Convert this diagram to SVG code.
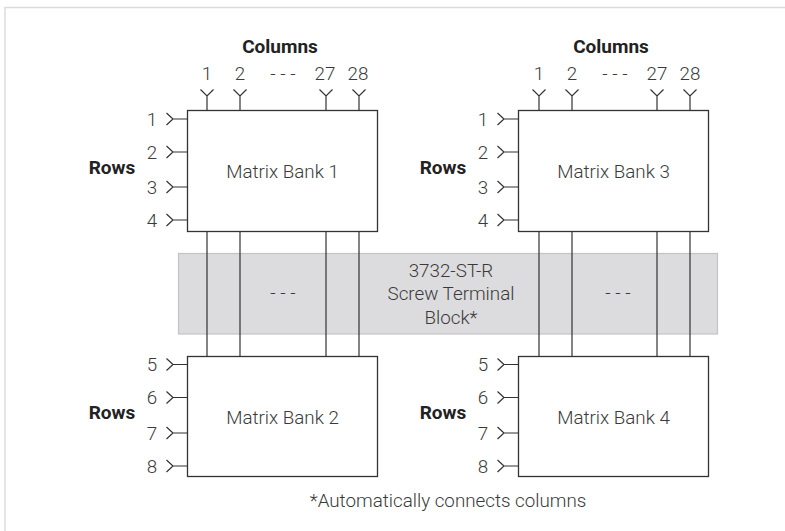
<svg xmlns="http://www.w3.org/2000/svg" width="785" height="531" viewBox="0 0 785 531">
<defs>
<style>
.frame{fill:none;stroke:#dcdcdc;stroke-width:1.5}
.box{fill:#fff;stroke:#333;stroke-width:1.3}
.wire{fill:none;stroke:#333;stroke-width:1.2}
.term{fill:#dcdcde;stroke:#c4c4c6;stroke-width:1.2}
.t{font-family:Roboto,"Liberation Sans",sans-serif;font-weight:300;font-size:18.8px;fill:#3a3a3a;text-anchor:middle}
.b{font-family:Roboto,"Liberation Sans",sans-serif;font-weight:700;font-size:19px;fill:#222;text-anchor:middle}
</style>
<g id="colpin"><path class="wire" d="M-6.5,89.5 L0,96 L6.5,89.5 M0,96 V110.5"/></g>
<g id="rowpin"><path class="wire" d="M-20.5,-6 L-14,0 L-20.5,6 M-14,0 H0"/></g>
</defs>
<path class="frame" d="M5,531 V7.5 H785"/>

<g id="terminal-block">
<rect class="term" x="178.5" y="253.5" width="539" height="80.5"/>
<text class="t" x="451" y="276.5">3732-ST-R</text>
<text class="t" x="451" y="300">Screw Terminal</text>
<text class="t" x="451" y="323.5">Block*</text>
<text class="t" x="283" y="299">- - -</text>
<text class="t" x="618" y="299">- - -</text>
</g>

<g id="connectors">
<path class="wire" d="M207,231.5 V356.5 M240,231.5 V356.5 M326,231.5 V356.5 M359,231.5 V356.5"/>
<path class="wire" d="M539,231.5 V356.5 M572,231.5 V356.5 M657,231.5 V356.5 M690,231.5 V356.5"/>
<use href="#colpin" x="207"/><use href="#colpin" x="240"/><use href="#colpin" x="326"/><use href="#colpin" x="359"/>
<use href="#colpin" x="539"/><use href="#colpin" x="572"/><use href="#colpin" x="657"/><use href="#colpin" x="690"/>
<use href="#rowpin" x="187" y="119"/><use href="#rowpin" x="187" y="152"/><use href="#rowpin" x="187" y="187"/><use href="#rowpin" x="187" y="220"/>
<use href="#rowpin" x="187" y="364.5"/><use href="#rowpin" x="187" y="397.5"/><use href="#rowpin" x="187" y="433"/><use href="#rowpin" x="187" y="466"/>
<use href="#rowpin" x="518" y="119"/><use href="#rowpin" x="518" y="152"/><use href="#rowpin" x="518" y="187"/><use href="#rowpin" x="518" y="220"/>
<use href="#rowpin" x="518" y="364.5"/><use href="#rowpin" x="518" y="397.5"/><use href="#rowpin" x="518" y="433"/><use href="#rowpin" x="518" y="466"/>
</g>

<g id="bank1">
<rect class="box" x="187.5" y="110.5" width="190" height="121"/>
<text class="t" x="282.5" y="178">Matrix Bank 1</text>
<text class="b" x="280" y="52.5">Columns</text>
<text class="t" x="207" y="79.5">1</text><text class="t" x="240" y="79.5">2</text>
<text class="t" x="283" y="79.5">- - -</text>
<text class="t" x="325" y="79.5">27</text><text class="t" x="358" y="79.5">28</text>
<text class="b" x="112" y="173.5">Rows</text>
<text class="t" x="152" y="125.5">1</text><text class="t" x="152" y="158.5">2</text>
<text class="t" x="152" y="193.5">3</text><text class="t" x="152" y="226.5">4</text>
</g>

<g id="bank2">
<rect class="box" x="187.5" y="356.5" width="190" height="120"/>
<text class="t" x="282.5" y="423.5">Matrix Bank 2</text>
<text class="b" x="112" y="418.5">Rows</text>
<text class="t" x="152" y="371">5</text><text class="t" x="152" y="404">6</text>
<text class="t" x="152" y="439.5">7</text><text class="t" x="152" y="472.5">8</text>
</g>

<g id="bank3">
<rect class="box" x="518.5" y="110.5" width="190" height="121"/>
<text class="t" x="613.5" y="178">Matrix Bank 3</text>
<text class="b" x="611" y="52.5">Columns</text>
<text class="t" x="539" y="79.5">1</text><text class="t" x="572" y="79.5">2</text>
<text class="t" x="615" y="79.5">- - -</text>
<text class="t" x="657" y="79.5">27</text><text class="t" x="690" y="79.5">28</text>
<text class="b" x="443" y="173.5">Rows</text>
<text class="t" x="483" y="125.5">1</text><text class="t" x="483" y="158.5">2</text>
<text class="t" x="483" y="193.5">3</text><text class="t" x="483" y="226.5">4</text>
</g>

<g id="bank4">
<rect class="box" x="518.5" y="356.5" width="190" height="120"/>
<text class="t" x="613.5" y="423.5">Matrix Bank 4</text>
<text class="b" x="443" y="418.5">Rows</text>
<text class="t" x="483" y="371">5</text><text class="t" x="483" y="404">6</text>
<text class="t" x="483" y="439.5">7</text><text class="t" x="483" y="472.5">8</text>
</g>

<g id="footnote">
<text class="t" x="448" y="506.5">*Automatically connects columns</text>
</g>
</svg>
